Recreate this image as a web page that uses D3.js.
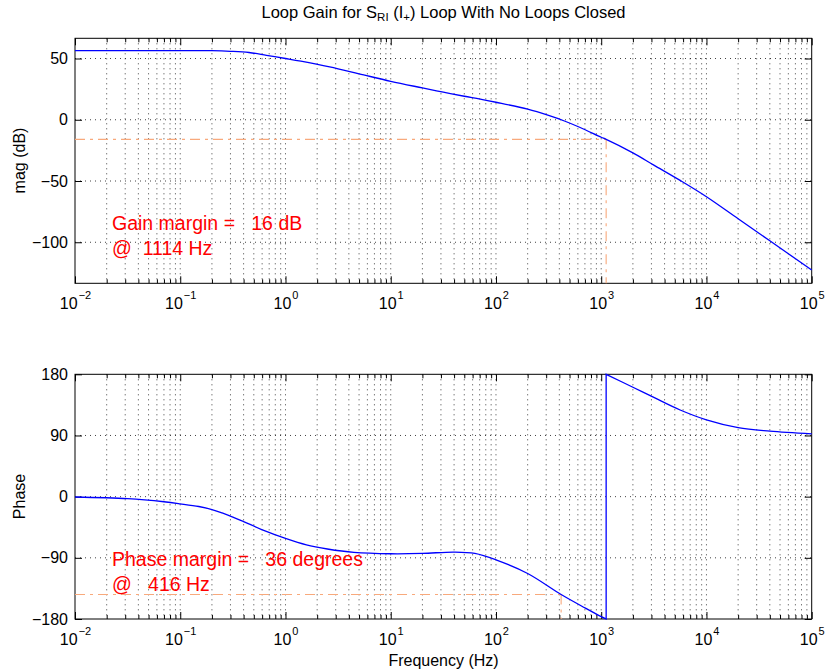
<!DOCTYPE html>
<html><head><meta charset="utf-8">
<script src="https://cdn.jsdelivr.net/npm/d3@7"></script>
<style>
body{margin:0;background:#fff}
svg text{font-family:"Liberation Sans",Arial,Helvetica,sans-serif;white-space:pre}
</style></head><body>
<svg id="c" width="827" height="672" xmlns="http://www.w3.org/2000/svg"></svg>
<script>
// ---- data ----
const magFreq  = [0.01, 0.0316, 0.1, 0.2, 0.3, 0.45, 0.66, 1, 1.4, 2.63, 5, 10, 20, 31.6, 50, 70.8, 100, 200, 316, 447, 631, 1000, 1114, 2000, 3162, 5623, 10000, 20000, 40000, 100000];
const magDb    = [56.5, 56.5, 56.5, 56.4, 55.9, 54.9, 52.6, 50.0, 47.8, 43.1, 37.5, 31.4, 26, 22.5, 19.2, 16.9, 14.3, 8.6, 3.5, -1, -6.3, -14.3, -16, -27, -37, -49.5, -62.8, -80.8, -98.8, -122.7];
const phaseFreq = [0.01, 0.0316, 0.07, 0.1, 0.15, 0.2, 0.25, 0.316, 0.4, 0.63, 1, 1.58, 2.5, 4.47, 10, 20, 40, 63, 100, 200, 416, 708, 1000, 1114, 1114, 2000, 3162, 5623, 10000, 20000, 40000, 100000];
const phaseDeg  = [-0.5, -3, -7.5, -10.5, -14.5, -19, -24, -30, -36.7, -50, -61.5, -71, -77, -82, -84, -83.5, -81.5, -83.5, -93, -113, -144, -164, -176.5, -180, 180, 161, 146, 127.5, 113, 101.5, 96.5, 92.5];
const xTickExponents = [-2, -1, 0, 1, 2, 3, 4, 5];
const magTicks = [50, 0, -50, -100];
const phaseTicks = [180, 90, 0, -90, -180];
const magLimits = [-133.5, 66.5];
const phaseLimits = [-180, 180];
const gainMarginDb = 16, gainMarginFreq = 1114;
const phaseMarginDeg = 36, phaseMarginFreq = 416;
const gainText = ["Gain margin =   16 dB", "@  1114 Hz"];
const phaseText = ["Phase margin =   36 degrees", "@   416 Hz"];

// ---- layout ----
const svg = d3.select("#c");
const X0 = 75, X1 = 811.7;
const panels = [
  {top: 38.3, bottom: 283.3},
  {top: 374.3, bottom: 619}
];
const x = d3.scaleLog().domain([1e-2, 1e5]).range([X0, X1]);
const majors = xTickExponents.map(e => Math.pow(10, e));
const minors = [];
for (let e = -2; e < 5; e++) for (let m = 2; m <= 9; m++) minors.push(m * Math.pow(10, e));
const gridColor = "#111";
const fmt = v => (v < 0 ? "\u2212" + Math.abs(v) : String(v));

function panel(p, domain, ticks, label, labelY) {
  const y = d3.scaleLinear().domain(domain).range([p.bottom, p.top]);
  const g = svg.append("g");
  const grid = g.append("g").attr("stroke", gridColor).attr("stroke-width", 0.8)
    .attr("stroke-dasharray", "1,4").attr("fill", "none");
  grid.selectAll("line.v").data(majors.concat(minors).filter(f => f > 1e-2 && f < 1e5))
    .join("line").attr("x1", d => x(d)).attr("x2", d => x(d)).attr("y1", p.top).attr("y2", p.bottom);
  grid.selectAll("line.h").data(ticks.filter(t => t > domain[0] && t < domain[1]))
    .join("line").attr("x1", X0).attr("x2", X1).attr("y1", d => y(d)).attr("y2", d => y(d));

  const axB = g.append("g").attr("transform", `translate(0,${p.bottom})`)
    .call(d3.axisBottom(x).tickValues(majors).tickSize(-7).tickFormat(() => ""));
  g.append("g").attr("transform", `translate(0,${p.bottom})`)
    .call(d3.axisBottom(x).tickValues(minors).tickSize(-4).tickFormat(() => ""));
  g.append("g").attr("transform", `translate(0,${p.top})`)
    .call(d3.axisTop(x).tickValues(majors).tickSize(-7).tickFormat(() => ""));
  g.append("g").attr("transform", `translate(0,${p.top})`)
    .call(d3.axisTop(x).tickValues(minors).tickSize(-4).tickFormat(() => ""));
  const axL = g.append("g").attr("transform", `translate(${X0},0)`)
    .call(d3.axisLeft(y).tickValues(ticks).tickSize(-7).tickPadding(7).tickFormat(fmt));
  g.append("g").attr("transform", `translate(${X1},0)`)
    .call(d3.axisRight(y).tickValues(ticks).tickSize(-7).tickFormat(() => ""));
  g.selectAll(".domain").remove();
  g.selectAll(".tick line").attr("stroke", "#000").attr("stroke-width", 1);
  axL.selectAll("text").attr("font-size", 16).attr("fill", "#000")
    .attr("font-family", "Liberation Sans, Arial, sans-serif");

  axB.selectAll(".tick").each(function(d) {
    const e = Math.round(Math.log10(d));
    const t = d3.select(this).append("text").attr("y", 26).attr("text-anchor", "middle")
      .attr("fill", "#000").attr("font-size", 16).attr("font-family", "Liberation Sans, Arial, sans-serif");
    t.append("tspan").text("10");
    t.append("tspan").attr("dy", -10).attr("dx", 1).attr("font-size", 11).text(fmt(e));
  });

  g.append("rect").attr("x", X0).attr("y", p.top).attr("width", X1 - X0).attr("height", p.bottom - p.top)
    .attr("fill", "none").attr("stroke", "#000").attr("stroke-width", 1);

  svg.append("text").attr("transform", `translate(25,${labelY}) rotate(-90)`)
    .attr("text-anchor", "middle").attr("font-size", 16).attr("fill", "#000").text(label);
  return y;
}

const yMag = panel(panels[0], magLimits, magTicks, "mag (dB)", 160.5);
const yPh = panel(panels[1], phaseLimits, phaseTicks, "Phase", 496.5);

const marginStyle = sel => sel.attr("fill", "none").attr("stroke", "#f8a97c").attr("stroke-width", 1.1)
  .attr("stroke-dasharray", "10,5,3,5");

svg.append("path").call(marginStyle)
  .attr("d", d3.line()([[x(0.01), yMag(-gainMarginDb)], [x(gainMarginFreq), yMag(-gainMarginDb)]]));
svg.append("path").call(marginStyle)
  .attr("d", d3.line()([[x(gainMarginFreq), yMag(-gainMarginDb)], [x(gainMarginFreq), yMag(magLimits[0])]]));
svg.append("path").call(marginStyle)
  .attr("d", d3.line()([[x(0.01), yPh(-180 + phaseMarginDeg)], [x(phaseMarginFreq), yPh(-180 + phaseMarginDeg)]]));
svg.append("path").call(marginStyle)
  .attr("d", d3.line()([[x(phaseMarginFreq), yPh(-180 + phaseMarginDeg)], [x(phaseMarginFreq), yPh(-180)]]));

// curves (smooth, with the phase wrap drawn as a straight vertical jump)
const magPts = magFreq.map((f, i) => [f, magDb[i]]);
const phPts = phaseFreq.map((f, i) => [f, phaseDeg[i]]);
const smooth = y => d3.line().x(d => x(d[0])).y(d => y(d[1])).curve(d3.curveCatmullRom.alpha(0.5));
svg.append("path").attr("fill", "none").attr("stroke", "#0000ff").attr("stroke-width", 1.3)
  .attr("d", smooth(yMag)(magPts));
let cut = phPts.findIndex((d, i) => i > 0 && d[0] === phPts[i - 1][0]);
const ph1 = phPts.slice(0, cut), ph2 = phPts.slice(cut);
svg.append("path").attr("fill", "none").attr("stroke", "#0000ff").attr("stroke-width", 1.3)
  .attr("d", smooth(yPh)(ph1) + smooth(yPh)(ph2).replace(/^M/, "L"));

const ann = (lines, y0) => lines.forEach((s, i) =>
  svg.append("text").attr("x", 112).attr("y", y0 + i * 25).attr("font-size", 19.5).attr("fill", "#ff0000").text(s));
ann(gainText, 229.5);
ann(phaseText, 566);

const title = svg.append("text").attr("x", 443.5).attr("y", 18).attr("text-anchor", "middle")
  .attr("font-size", 16.5).attr("fill", "#000");
title.append("tspan").text("Loop Gain for S");
title.append("tspan").attr("font-size", 11.5).attr("dy", 3).text("RI");
title.append("tspan").attr("dy", -3).text(" (I");
title.append("tspan").attr("font-size", 11.5).attr("dy", 3).text("+");
title.append("tspan").attr("dy", -3).text(") Loop With No Loops Closed");

svg.append("text").attr("x", 443.5).attr("y", 666).attr("text-anchor", "middle")
  .attr("font-size", 16).attr("fill", "#000").text("Frequency (Hz)");
</script>
</body></html>
